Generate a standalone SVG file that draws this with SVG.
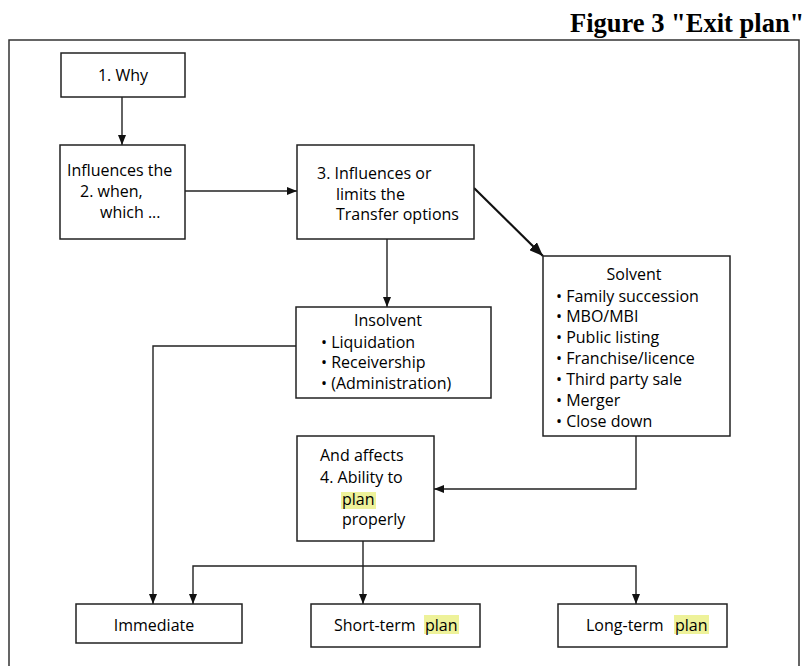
<svg xmlns="http://www.w3.org/2000/svg" width="808" height="666" viewBox="0 0 808 666">
  <defs>
    <style>
      .box { fill: #ffffff; stroke: #222222; stroke-width: 1.5; }
      .frame { fill: none; stroke: #333333; stroke-width: 1.5; }
      .lbl { font-family: "Open Sans", "Noto Sans", "DejaVu Sans", sans-serif; font-size: 16px; fill: #000000; }
      .mid { text-anchor: middle; }
      .hl { fill: #eef29a; }
      .wire { fill: none; stroke: #222222; stroke-width: 1.4; }
      .wire-bold { fill: none; stroke: #111111; stroke-width: 2.2; }
      .title { font-family: "Liberation Serif", "Times New Roman", serif; font-size: 26.5px; font-weight: bold; fill: #000000; }
    </style>
    <marker id="arrow" markerUnits="userSpaceOnUse" markerWidth="10" markerHeight="8" refX="10" refY="4" orient="auto">
      <path d="M0,0 L10,4 L0,8 z" fill="#111111"/>
    </marker>
    <marker id="arrow-big" markerUnits="userSpaceOnUse" markerWidth="14" markerHeight="11" refX="14" refY="5.5" orient="auto">
      <path d="M0,0 L14,5.5 L0,11 z" fill="#111111"/>
    </marker>
  </defs>

  <rect width="808" height="666" fill="#ffffff"/>

  <!-- heading and surrounding frame -->
  <text class="title" x="570" y="32">Figure 3 "Exit plan"</text>
  <path class="frame" d="M9 700 V40 H799 V700"/>

  <!-- connectors -->
  <g id="connectors">
    <path class="wire" d="M122 97 V145" marker-end="url(#arrow)"/>
    <path class="wire" d="M185 191 H297" marker-end="url(#arrow)"/>
    <path class="wire" d="M387 239 V307" marker-end="url(#arrow)"/>
    <path class="wire-bold" d="M474 188 L543 256" marker-end="url(#arrow-big)"/>
    <path class="wire" d="M296 346 H153 V604" marker-end="url(#arrow)"/>
    <path class="wire" d="M636 436 V489 H434" marker-end="url(#arrow)"/>
    <path class="wire" d="M363 541 V604" marker-end="url(#arrow)"/>
    <path class="wire" d="M363 566 H193 V604" marker-end="url(#arrow)"/>
    <path class="wire" d="M363 566 H636 V604" marker-end="url(#arrow)"/>
  </g>

  <!-- 1. Why -->
  <g id="node-why">
    <rect class="box" x="61" y="53" width="124" height="44"/>
    <text class="lbl mid" x="123" y="81">1. Why</text>
  </g>

  <!-- 2. When / which -->
  <g id="node-when">
    <rect class="box" x="60" y="145" width="125" height="94"/>
    <text class="lbl" x="67" y="176">Influences the</text>
    <text class="lbl" x="80" y="197">2. when,</text>
    <text class="lbl" x="100" y="218">which ...</text>
  </g>

  <!-- 3. Transfer options -->
  <g id="node-transfer">
    <rect class="box" x="297" y="145" width="177" height="94"/>
    <text class="lbl" x="317" y="179">3. Influences or</text>
    <text class="lbl" x="336" y="200">limits the</text>
    <text class="lbl" x="336" y="220">Transfer options</text>
  </g>

  <!-- Insolvent -->
  <g id="node-insolvent">
    <rect class="box" x="296" y="307" width="195" height="91"/>
    <text class="lbl mid" x="388" y="326">Insolvent</text>
    <text class="lbl" x="321" y="348">• Liquidation</text>
    <text class="lbl" x="321" y="368">• Receivership</text>
    <text class="lbl" x="321" y="389">• (Administration)</text>
  </g>

  <!-- Solvent -->
  <g id="node-solvent">
    <rect class="box" x="543" y="256" width="187" height="180"/>
    <text class="lbl mid" x="634" y="280">Solvent</text>
    <text class="lbl" x="556" y="302">• Family succession</text>
    <text class="lbl" x="556" y="322">• MBO/MBI</text>
    <text class="lbl" x="556" y="343">• Public listing</text>
    <text class="lbl" x="556" y="364">• Franchise/licence</text>
    <text class="lbl" x="556" y="385">• Third party sale</text>
    <text class="lbl" x="556" y="406">• Merger</text>
    <text class="lbl" x="556" y="427">• Close down</text>
  </g>

  <!-- 4. Ability to plan -->
  <g id="node-ability">
    <rect class="box" x="297" y="436" width="137" height="105"/>
    <rect class="hl" x="341" y="492" width="35" height="17"/>
    <text class="lbl" x="320" y="461">And  affects</text>
    <text class="lbl" x="320" y="483">4. Ability to</text>
    <text class="lbl" x="342" y="505">plan</text>
    <text class="lbl" x="342" y="525">properly</text>
  </g>

  <!-- outcomes -->
  <g id="node-immediate">
    <rect class="box" x="76" y="604" width="166" height="39"/>
    <text class="lbl mid" x="154" y="631">Immediate</text>
  </g>

  <g id="node-short-term">
    <rect class="box" x="311" y="604" width="169" height="43"/>
    <rect class="hl" x="424" y="615" width="35" height="19"/>
    <text class="lbl" x="334" y="631">Short-term</text>
    <text class="lbl" x="425" y="631">plan</text>
  </g>

  <g id="node-long-term">
    <rect class="box" x="558" y="604" width="169" height="43"/>
    <rect class="hl" x="674" y="615" width="35" height="19"/>
    <text class="lbl" x="586" y="631">Long-term</text>
    <text class="lbl" x="675" y="631">plan</text>
  </g>
</svg>
